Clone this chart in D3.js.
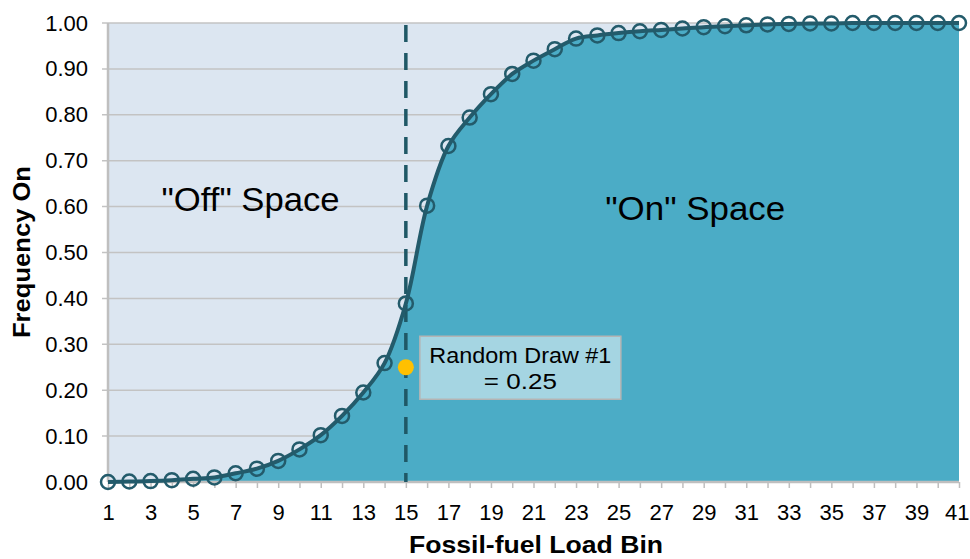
<!DOCTYPE html>
<html>
<head>
<meta charset="utf-8">
<script src="https://cdn.jsdelivr.net/npm/d3@7"></script>
<style>
  body { margin: 0; background: #fff; }
  svg { display: block; font-family: "Liberation Sans", Arial, sans-serif; }
</style>
</head>
<body>
<svg id="chart" width="970" height="559"></svg>
<script>
// ---- data ----
const bins = d3.range(1, 42);
const frequencyOn = [
  0.000, 0.001, 0.002, 0.004, 0.007, 0.010, 0.019, 0.029, 0.046, 0.071,
  0.102, 0.144, 0.195, 0.259, 0.389, 0.602, 0.732, 0.794, 0.845, 0.889,
  0.918, 0.943, 0.966, 0.973, 0.978, 0.982, 0.985, 0.988, 0.991, 0.993,
  0.995, 0.997, 0.998, 0.999, 0.999, 1.000, 1.000, 1.000, 1.000, 1.000, 1.000
];
const yTicks = [0, 0.1, 0.2, 0.3, 0.4, 0.5, 0.6, 0.7, 0.8, 0.9, 1.0];
const xTickLabels = d3.range(1, 42, 2);
const thresholdBin = 15;
const randomDraw = 0.25;
const regionLabels = [
  { text: '"Off" Space', bin: 7.7, value: 0.59, len: 178 },
  { text: '"On" Space', bin: 28.6, value: 0.57, len: 180 }
];
const drawLabel = ["Random Draw #1", "= 0.25"];

// ---- layout ----
const svg = d3.select("#chart");
const pL = 108, pR = 959, pT = 23, pB = 482;
const x = d3.scaleLinear().domain([1, 41]).range([pL, pR]);
const y = d3.scaleLinear().domain([0, 1]).range([pB, pT]);

const dark = "#235b6b";
const pts = bins.map((b, i) => ({ b, v: frequencyOn[i] }));

// background
svg.append("rect").attr("x", pL).attr("y", pT)
  .attr("width", pR - pL).attr("height", pB - pT)
  .attr("fill", "#dce6f1");

// gridlines
svg.append("g").selectAll("line").data(yTicks.filter(d => d > 0)).join("line")
  .attr("x1", pL - 6).attr("x2", pR)
  .attr("y1", d => y(d)).attr("y2", d => y(d))
  .attr("stroke", "#c3c3c3").attr("stroke-width", 1.5);

// area under curve
const curve = d3.curveCatmullRom.alpha(0.5);
svg.append("path").datum(pts)
  .attr("d", d3.area().x(d => x(d.b)).y0(y(0)).y1(d => y(d.v)).curve(curve))
  .attr("fill", "#4bacc6");

// axes
const yAxis = d3.axisLeft(y).tickValues(yTicks).tickFormat(d3.format(".2f")).tickSize(6).tickPadding(14);
const gy = svg.append("g").attr("transform", `translate(${pL},0)`).call(yAxis);
const xAxis = d3.axisBottom(x).tickValues(bins).tickSize(6).tickPadding(12)
  .tickFormat(d => xTickLabels.includes(d) ? d : "");
const gx = svg.append("g").attr("transform", `translate(0,${pB})`).call(xAxis);
[gx, gy].forEach(g => {
  g.select(".domain").attr("stroke", "#bfbfbf").attr("stroke-width", 2.5);
  g.selectAll(".tick line").attr("stroke", "#bfbfbf").attr("stroke-width", 1.5);
  g.selectAll(".tick text").attr("fill", "#000").attr("font-size", 22)
    .attr("font-family", '"Liberation Sans", Arial, sans-serif');
});
gy.selectAll(".tick line").attr("stroke", "none");
gx.select(".domain").attr("d", `M${pL},0H${pR}`);
gy.select(".domain").attr("d", `M0,${pT}V${pB}`);
gx.selectAll(".tick text").attr("dy", "0.9em");
gx.selectAll(".tick text").filter(d => d === 41).attr("text-anchor", "end").attr("dx", 10);

// dashed threshold line
svg.append("line")
  .attr("x1", x(thresholdBin)).attr("x2", x(thresholdBin))
  .attr("y1", pT + 2).attr("y2", pB)
  .attr("stroke", "#1f5866").attr("stroke-width", 3.5)
  .attr("stroke-dasharray", "17 11");

// curve line
svg.append("path").datum(pts)
  .attr("d", d3.line().x(d => x(d.b)).y(d => y(d.v)).curve(curve))
  .attr("fill", "none").attr("stroke", dark).attr("stroke-width", 4);

// markers
svg.append("g").selectAll("circle").data(pts).join("circle")
  .attr("cx", d => x(d.b)).attr("cy", d => y(d.v)).attr("r", 7)
  .attr("fill", "none").attr("stroke", dark).attr("stroke-width", 2.5);

// random draw point
svg.append("circle").attr("cx", x(thresholdBin)).attr("cy", y(randomDraw))
  .attr("r", 8).attr("fill", "#ffc000");

// label box
const bx = x(thresholdBin) + 14, by = y(randomDraw) - 31;
svg.append("rect").attr("x", bx).attr("y", by).attr("width", 201).attr("height", 63)
  .attr("fill", "#a5d5e2").attr("stroke", "#b4b4b4").attr("stroke-width", 1.5);
svg.append("g").selectAll("text").data(drawLabel).join("text")
  .attr("x", bx + 100.5).attr("y", (d, i) => by + 27 + i * 26)
  .attr("text-anchor", "middle").attr("font-size", 22).attr("fill", "#000")
  .attr("textLength", (d, i) => i === 0 ? 182 : 73).attr("lengthAdjust", "spacingAndGlyphs")
  .text(d => d);

// region labels
svg.append("g").selectAll("text").data(regionLabels).join("text")
  .attr("x", d => x(d.bin)).attr("y", d => y(d.value))
  .attr("text-anchor", "middle").attr("font-size", 33).attr("fill", "#000")
  .attr("textLength", d => d.len).attr("lengthAdjust", "spacingAndGlyphs")
  .text(d => d.text);

// axis titles
svg.append("text").attr("x", 536).attr("y", 553)
  .attr("text-anchor", "middle").attr("font-size", 23).attr("font-weight", "bold")
  .attr("textLength", 254).attr("lengthAdjust", "spacingAndGlyphs")
  .text("Fossil-fuel Load Bin");
svg.append("text").attr("transform", "translate(30,252) rotate(-90)")
  .attr("text-anchor", "middle").attr("font-size", 23).attr("font-weight", "bold")
  .attr("textLength", 172).attr("lengthAdjust", "spacingAndGlyphs")
  .text("Frequency On");
</script>
</body>
</html>
